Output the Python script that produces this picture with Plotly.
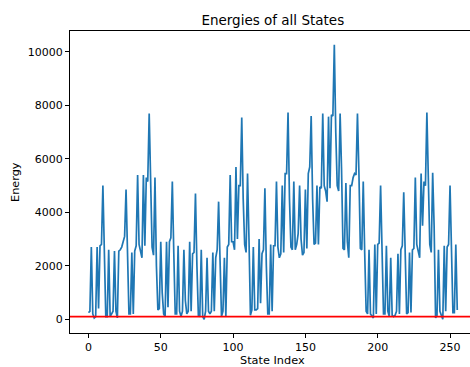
import plotly.graph_objects as go

# Energies of states 0..255
energies = [
    250, 300, 2700, 200, 50, 100, 2700, 400, 2750, 2800, 5000, 2000, 100, 100, 2600, 100,
    200, 300, 2550, 300, 50, 2550, 2600, 2700, 2900, 3100, 4850, 2000, 200, 200, 2500, 200,
    2550, 2750, 5400, 2800, 2500, 2300, 5400, 2750, 5300, 5150, 7700, 4500, 2700, 2400, 5300, 2000,
    350, 400, 2900, 1000, 200, 100, 2900, 450, 2900, 3050, 5150, 2500, 200, 200, 2750, 300,
    100, 300, 2600, 700, 200, 300, 2900, 300, 2450, 2500, 4700, 2000, 150, 100, 2600, 100,
    0, 300, 2300, 300, 200, 300, 2500, 300, 2300, 2600, 4400, 2200, 100, 300, 2300, 100,
    2700, 2800, 5400, 2900, 2900, 2600, 5700, 3000, 5000, 5000, 7550, 4500, 2800, 2500, 5450, 3000,
    150, 350, 2700, 350, 350, 400, 3000, 600, 2450, 2600, 4900, 2000, 200, 200, 2800, 300,
    2750, 2750, 5150, 2700, 2300, 2450, 5000, 2500, 5450, 5450, 7730, 4500, 2700, 2600, 5150, 2600,
    2800, 3200, 5000, 3000, 2400, 2500, 4850, 2650, 5450, 5700, 7600, 4500, 2800, 2850, 5000, 2800,
    4950, 4900, 7700, 5000, 4800, 4400, 7580, 4900, 7650, 7600, 10270, 7000, 5000, 4800, 7700, 5600,
    2650, 2600, 5100, 2900, 2300, 5000, 5000, 5300, 5450, 5400, 7700, 5500, 2650, 2600, 5150, 2500,
    300, 200, 2600, 200, 100, 50, 2800, 200, 2800, 2850, 5000, 2700, 200, 200, 2750, 300,
    100, 2300, 150, 100, 150, 300, 2450, 200, 2600, 2750, 4750, 2500, 200, 250, 2500, 250,
    2600, 2650, 5300, 2800, 2500, 2300, 5450, 3500, 5150, 5000, 7730, 4500, 2800, 2500, 5480, 3500,
    50, 150, 2600, 300, 100, 0, 2750, 300, 2700, 2800, 5000, 2400, 250, 250, 2800, 350,
]
state_index = list(range(len(energies)))
threshold = 100
x_ticks = [0, 50, 100, 150, 200, 250]
y_ticks = [0, 2000, 4000, 6000, 8000, 10000]
y_tick_labels = ["0", "2000", "4000", "6000", "8000", "10000"]

title_text = "Energies of all States"
x_label = "State Index"
y_label = "Energy"

# matplotlib-like 5% margins; right side of the original axes is cropped
n = len(energies)
x_lo = -0.05 * (n - 1)
x_full_hi = (n - 1) * 1.05
x_hi = x_lo + (x_full_hi - x_lo) * 400 / 405.7
span = max(energies) - min(energies)
y_lo = min(energies) - 0.05 * span
y_hi = max(energies) + 0.05 * span

font_family = "DejaVu Sans"

fig = go.Figure()
fig.add_trace(go.Scatter(
    x=state_index, y=energies, mode="lines",
    line=dict(color="#1f77b4", width=1.7), hoverinfo="skip",
))
fig.add_hline(y=threshold, line=dict(color="red", width=1.7))

axis_common = dict(
    showgrid=False, zeroline=False, showline=True, linecolor="black", linewidth=0.9,
    ticks="outside", ticklen=4, tickwidth=0.9, tickcolor="black",
    tickfont=dict(family=font_family, size=11, color="black"),
)
fig.update_layout(
    width=470, height=367,
    margin=dict(l=70, r=0, t=31, b=34, pad=0),
    plot_bgcolor="white", paper_bgcolor="white",
    showlegend=False,
    xaxis=dict(range=[x_lo, x_hi], tickvals=x_ticks, mirror=True, **axis_common),
    yaxis=dict(range=[y_lo, y_hi], tickvals=y_ticks, ticktext=y_tick_labels, **axis_common),
    title=dict(text=title_text, x=272.8 / 470, xref="container", xanchor="center",
               y=1 - 20 / 367, yref="container", yanchor="middle",
               font=dict(family=font_family, size=13.5, color="black")),
    annotations=[
        dict(text=x_label, xref="paper", yref="paper", x=(272.8 - 70) / 400,
             y=(332.7 - 360) / 301.7, xanchor="center", yanchor="middle", showarrow=False,
             font=dict(family=font_family, size=11.3, color="black")),
        dict(text=y_label, xref="paper", yref="paper", x=(15 - 70) / 400, y=0.5,
             textangle=-90, xanchor="center", yanchor="middle", showarrow=False,
             font=dict(family=font_family, size=11.3, color="black")),
    ],
)
fig.write_html("out.html")
